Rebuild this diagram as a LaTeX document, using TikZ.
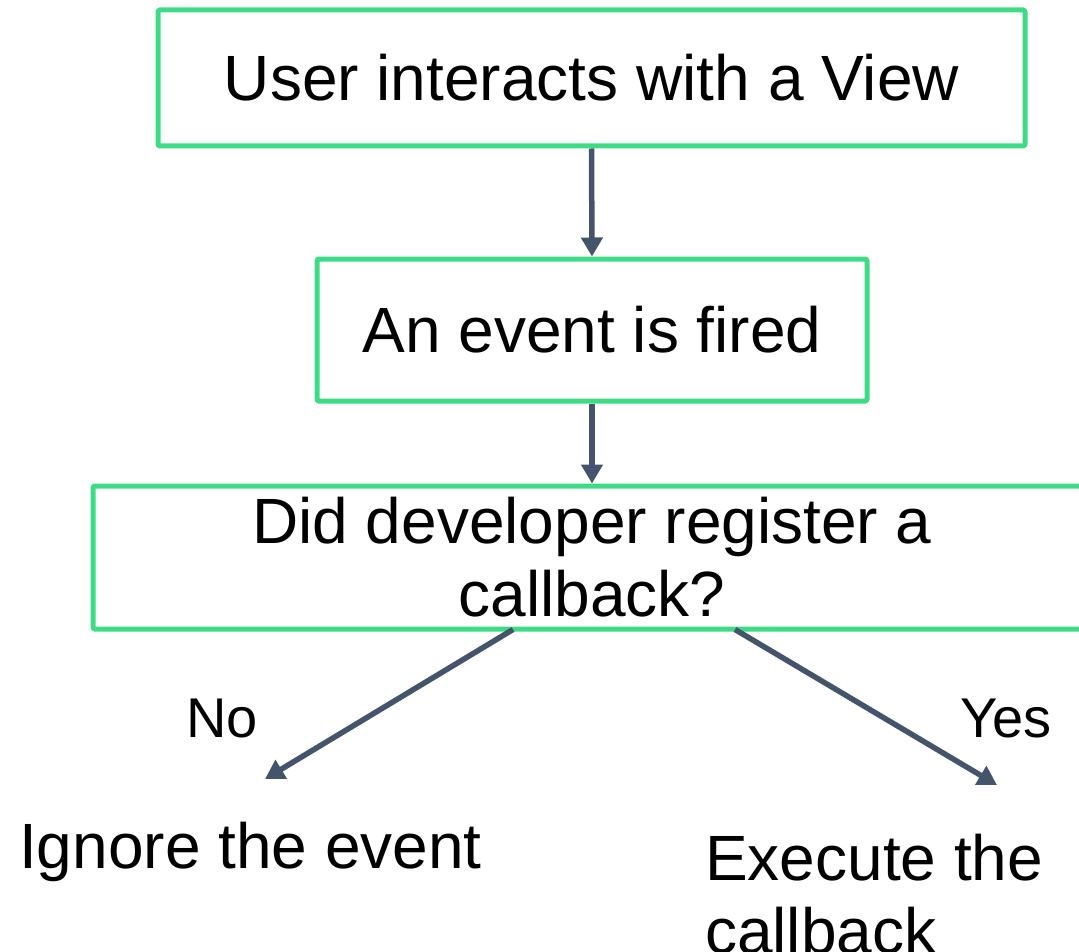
\documentclass[tikz,border=0pt]{standalone}
\usepackage{fontspec}
\setmainfont{Liberation Sans}
\usetikzlibrary{arrows.meta}
\definecolor{boxgreen}{HTML}{3DDC84}
\definecolor{arrowslate}{HTML}{44546A}
\tikzset{
  bigtext/.style={font=\fontsize{64}{73}\selectfont},
  stepbox/.style={draw=boxgreen, line width=5pt, line join=round, rounded corners=1.5pt,
    inner sep=0pt, align=center, bigtext},
  flow/.style={draw=arrowslate, line width=5.5pt,
    -{Triangle[width=21pt,length=19pt]}},
  outcome/.style={inner sep=0pt, bigtext},
  branch/.style={inner sep=0pt, font=\fontsize{56}{64}\selectfont},
}
\begin{document}
\begin{tikzpicture}[x=1pt,y=-1pt]
  \useasboundingbox (0,0) rectangle (1079,952);
  \clip (0,0) rectangle (1079,952);

  % process boxes
  \node[stepbox, minimum width=867pt, minimum height=136pt] (view) at (591.5,78)
    {User interacts with a View};
  \node[stepbox, minimum width=550pt, minimum height=142pt] (fired) at (592,330)
    {An event is fired};
  \node[stepbox, minimum width=998pt, minimum height=143pt] (check) at (592,557.5)
    {Did developer register a\\callback?};

  % outcomes
  \node[outcome, anchor=base west] (ignore) at (19,868) {Ignore the event};
  \node[outcome, anchor=base west] (execute) at (705,880) {Execute the};
  \node[outcome, anchor=base west] (callback) at (705,953) {callback};

  % branch labels
  \node[branch, anchor=base] (no) at (222,737) {No};
  \node[branch, anchor=base] (yes) at (1006,737) {Yes};

  % arrow ends
  \coordinate (noEnd) at (265,779);
  \coordinate (yesEnd) at (997,785);

  % connectors
  \draw[flow] (view.south) -- (fired.north);
  \draw[flow] (fired.south) -- (check.north);
  \draw[flow] ([xshift=-79pt,yshift=2pt]check.south) -- (noEnd);
  \draw[flow] ([xshift=143pt,yshift=2pt]check.south) -- (yesEnd);
\end{tikzpicture}
\end{document}
